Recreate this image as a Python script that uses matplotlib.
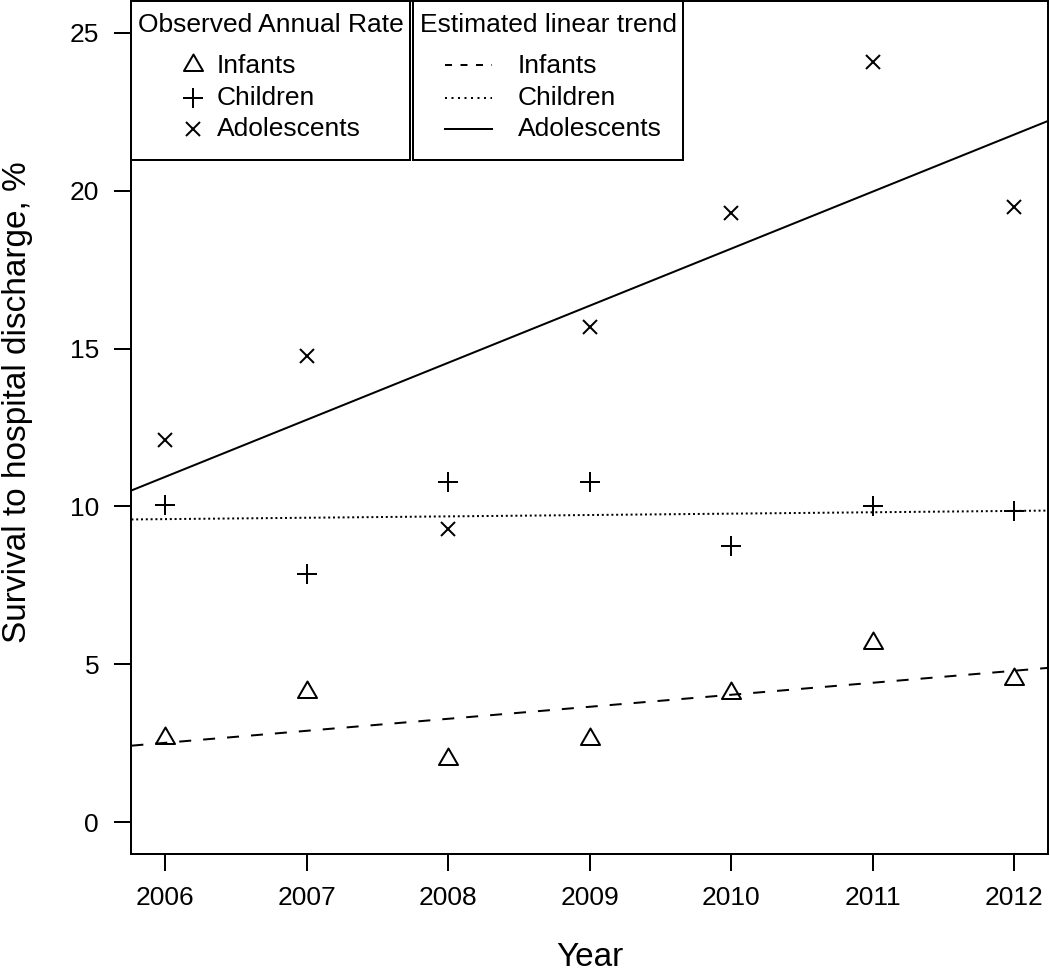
import numpy as np
import matplotlib
matplotlib.use("Agg")
import matplotlib.pyplot as plt
from matplotlib.path import Path
from matplotlib.patches import Rectangle

plt.rcParams['font.family'] = ['Liberation Sans', 'DejaVu Sans']
plt.rcParams['lines.scale_dashes'] = False

# ---- data ----
years = [2006, 2007, 2008, 2009, 2010, 2011, 2012]
groups = ["Infants", "Children", "Adolescents"]
infants = [2.68, 4.12, 2.02, 2.65, 4.1, 5.68, 4.55]
children = [10.06, 7.85, 10.76, 10.77, 8.74, 10.0, 9.85]
adolescents = [12.1, 14.75, 9.3, 15.67, 19.28, 24.06, 19.47]
# estimated linear trend values at 2006 and 2012
trend_2006 = [2.52, 9.60, 10.94]
trend_2012 = [4.80, 9.86, 21.77]
yticks = [0, 5, 10, 15, 20, 25]

# R-like triangle (pch 2) centered at centroid
tri = Path([(0, 1.5551), (1.3468, -0.7776), (-1.3468, -0.7776), (0, 1.5551)],
           [Path.MOVETO, Path.LINETO, Path.LINETO, Path.CLOSEPOLY])

px = 1 / 100 * 72  # points per pixel at 100 dpi
markers = [dict(marker=tri, ms=22 * px), dict(marker='+', ms=20 * px), dict(marker='x', ms=14 * px)]
dash_plot = [(0, (12 * px, 12 * px)), (0, (2 * px, 2.8 * px)), '-']
dash_leg = [(0, (7 * px, 8.5 * px)), (0, (2 * px, 4.5 * px)), '-']
lw = 2 * px

W_FIG, H_FIG = 1050, 977
L, R, T, B = 131.4, 1048, 1, 854
fig = plt.figure(figsize=(W_FIG / 100, H_FIG / 100), dpi=100)
ax = fig.add_axes([L / W_FIG, (H_FIG - B) / H_FIG, (R - L) / W_FIG, (B - T) / H_FIG])

series = [infants, children, adolescents]
for s, mk, ls, a, b in zip(series, markers, dash_plot, trend_2006, trend_2012):
    ax.plot(years, s, linestyle='none', color='black', mfc='none', mec='black',
            mew=lw, **mk)
    ax.axline((years[0], a), (years[-1], b), color='black', lw=lw, linestyle=ls)

ax.set_xlim(2005.76, 2012.24)
ax.set_ylim(-1, 26)
ax.set_xticks(years)
ax.set_yticks(yticks)
ax.tick_params(axis='both', length=17 * px, width=lw, labelsize=19, pad=11, color='black')
for sp in ax.spines.values():
    sp.set_linewidth(lw)

ax.set_xlabel("Year", fontsize=24)
ax.set_ylabel("Survival to hospital discharge, %", fontsize=24)
ax.xaxis.set_label_coords(0.5, (B - 957) / (B - T))
ax.yaxis.set_label_coords((18 - L) / (R - L), (B - 402) / (B - T))
for lab in (ax.xaxis.label, ax.yaxis.label):
    lab.set_verticalalignment('center')
    lab.set_horizontalalignment('center')

# ---- legends (drawn in axes fraction coordinates) ----
def axc(x, y):
    return ((x - L) / (R - L), (B - y) / (B - T))

def box(x0, x1, y0, y1):
    (ax0, ay1), (ax1, ay0) = axc(x0, y0), axc(x1, y1)
    ax.add_patch(Rectangle((ax0, ay0), ax1 - ax0, ay1 - ay0, transform=ax.transAxes,
                           facecolor='white', edgecolor='black', lw=lw, zorder=5,
                           clip_on=False))

def txt(x, y, s, ha='left'):
    xx, yy = axc(x, y)
    ax.text(xx, yy, s, transform=ax.transAxes, fontsize=19, ha=ha, va='baseline',
            zorder=6)

box(L, 410, T, 160)
box(413, 683, T, 160)
txt(270.7, 32.5, "Observed Annual Rate", ha='center')
txt(548, 32.5, "Estimated linear trend", ha='center')

row_mark_y = [65, 98, 129]
row_base_y = [73.3, 105, 136.3]
for g, mk, ls, my, by in zip(groups, markers, dash_leg, row_mark_y, row_base_y):
    mx, myy = axc(193, my)
    ax.plot([mx], [myy], transform=ax.transAxes, linestyle='none', color='black',
            mfc='none', mec='black', mew=lw, clip_on=False, zorder=6, **mk)
    txt(217, by, g)
    lx0, ly = axc(445, my)
    lx1, _ = axc(492, my)
    ax.plot([lx0, lx1], [ly, ly], transform=ax.transAxes, color='black', lw=lw,
            linestyle=ls, clip_on=False, zorder=6)
    txt(518, by, g)

fig.savefig("out.png", dpi=100)
